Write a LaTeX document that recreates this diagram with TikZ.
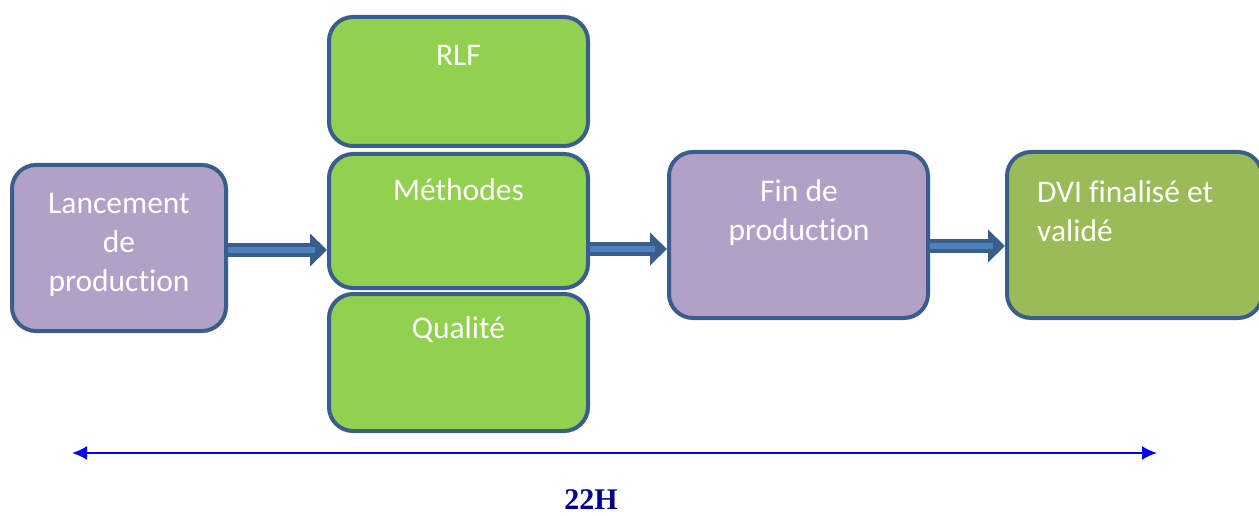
\documentclass[tikz,border=0pt]{standalone}
\usepackage{fontspec}
\setmainfont{Carlito}[RawFeature={-liga;-clig}]
\newfontfamily\serifb{Liberation Serif}
\usetikzlibrary{arrows.meta}
\definecolor{bordc}{HTML}{3A5E8C}
\definecolor{purp}{HTML}{B2A1C7}
\definecolor{grn}{HTML}{92D050}
\definecolor{olive}{HTML}{9BBB59}
\definecolor{arrlight}{HTML}{4F81BD}
\definecolor{navyt}{HTML}{000090}
\tikzset{
  box/.style={draw=bordc, line width=4pt, rounded corners=24pt, inner sep=0pt},
  txt/.style={text=white, font=\fontsize{31.5}{39}\selectfont, inner sep=0pt, align=center},
  darr/.style={draw=bordc, line width=14pt, -{Triangle[width=32pt,length=17pt]}},
  larr/.style={draw=arrlight, line width=6pt, shorten >=12pt},
  dim/.style={draw=blue, line width=2pt, {Latex[length=15pt,width=14pt]}-{Latex[length=15pt,width=14pt]}}
}
\begin{document}
\begin{tikzpicture}[x=1pt,y=-1pt]
\useasboundingbox (0,0) rectangle (1259,516);
% boxes
\node[box, fill=purp, minimum width=214pt, minimum height=166pt] (lanc) at (119,248) {};
\node[box, fill=grn, minimum width=259pt, minimum height=129pt] (rlf) at (458.5,81.5) {};
\node[box, fill=grn, minimum width=259pt, minimum height=134pt] (meth) at (458.5,221) {};
\node[box, fill=grn, minimum width=259pt, minimum height=137pt] (qual) at (458.5,362.5) {};
\node[box, fill=purp, minimum width=259pt, minimum height=166pt] (fin) at (798.5,235) {};
\node[box, fill=olive, minimum width=255pt, minimum height=166pt] (dvi) at (1134.5,235) {};
% texts
\node[txt] (tlanc) at (119,245) {Lancement\\de\\production};
\node[txt] (trlf) at (458.5,55) {RLF};
\node[txt] (tmeth) at (458.5,190) {Méthodes};
\node[txt] (tqual) at (458.5,330) {Qualité};
\node[txt] (tfin) at (799,213) {Fin de\\production};
\node[txt, align=left, anchor=west] (tdvi) at (1037,211) {DVI finalisé et\\validé};
% arrows
\draw[darr] ([yshift=-2pt]lanc.east) -- ([yshift=-2pt]lanc.east -| meth.west);
\draw[larr] ([yshift=-2pt]lanc.east) -- ([yshift=-2pt]lanc.east -| meth.west);
\draw[darr] ([yshift=-14pt]fin.west -| meth.east) -- ([yshift=-14pt]fin.west);
\draw[larr] ([yshift=-14pt]fin.west -| meth.east) -- ([yshift=-14pt]fin.west);
\draw[darr] ([yshift=-11pt]fin.east) -- ([yshift=-11pt]fin.east -| dvi.west);
\draw[larr] ([yshift=-11pt]fin.east) -- ([yshift=-11pt]fin.east -| dvi.west);
% dimension line
\coordinate (dl) at (72,453);
\coordinate (dr) at (1157,453);
\draw[dim] (dl) -- (dr);
\node[text=navyt, font=\serifb\bfseries\fontsize{30}{36}\selectfont, inner sep=0pt] (hrs) at (591,500) {22H};
\end{tikzpicture}
\end{document}
